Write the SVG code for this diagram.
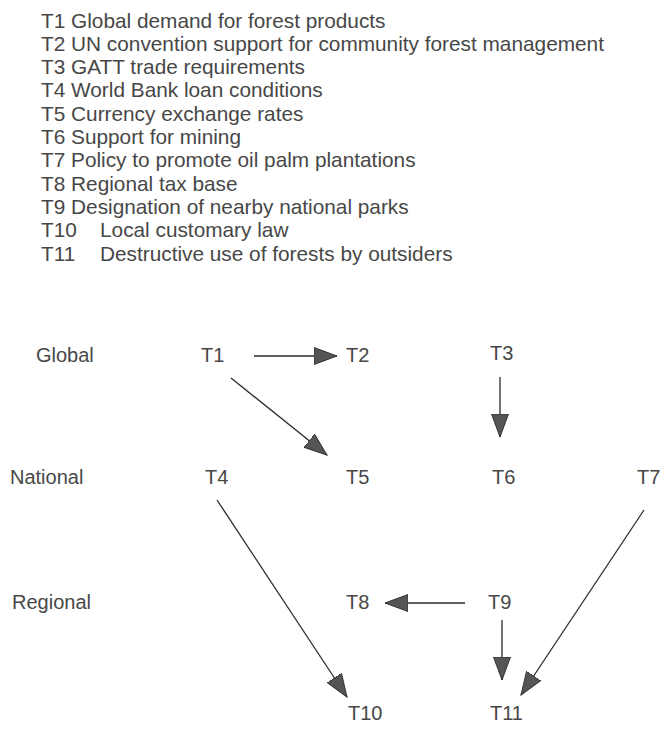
<svg xmlns="http://www.w3.org/2000/svg" width="662" height="729" viewBox="0 0 662 729">
<defs>
<style>
.lst{font-family:"Liberation Sans",Arial,sans-serif;font-size:20.8px;fill:#474747}
.lbl{font-family:"Liberation Sans",Arial,sans-serif;font-size:20px;fill:#474747}
.edge{stroke:#2a2a2a;stroke-width:1.3;fill:none;marker-end:url(#ah)}
</style>
<marker id="ah" markerUnits="userSpaceOnUse" markerWidth="26" markerHeight="20" refX="23" refY="9" orient="auto" viewBox="0 0 26 20">
<path d="M0,0.5 L23,9 L0,17.5 Z" fill="#555" stroke="#333" stroke-width="1"/>
</marker>
</defs>
<rect width="662" height="729" fill="#fff"/>
<g id="legend">
<text class="lst" x="41" y="27.5">T1 Global demand for forest products</text>
<text class="lst" x="41" y="50.8">T2 UN convention support for community forest management</text>
<text class="lst" x="41" y="74.1">T3 GATT trade requirements</text>
<text class="lst" x="41" y="97.4">T4 World Bank loan conditions</text>
<text class="lst" x="41" y="120.7">T5 Currency exchange rates</text>
<text class="lst" x="41" y="144">T6 Support for mining</text>
<text class="lst" x="41" y="167.3">T7 Policy to promote oil palm plantations</text>
<text class="lst" x="41" y="190.6">T8 Regional tax base</text>
<text class="lst" x="41" y="213.9">T9 Designation of nearby national parks</text>
<text class="lst" x="41" y="237.2">T10</text>
<text class="lst" x="100" y="237.2">Local customary law</text>
<text class="lst" x="41" y="260.5">T11</text>
<text class="lst" x="100" y="260.5">Destructive use of forests by outsiders</text>
</g>
<g id="levels">
<text class="lbl" x="36" y="362">Global</text>
<text class="lbl" x="10" y="484">National</text>
<text class="lbl" x="12" y="609">Regional</text>
</g>
<g id="T1"><text class="lbl" x="201" y="362">T1</text></g>
<g id="T2"><text class="lbl" x="346" y="362">T2</text></g>
<g id="T3"><text class="lbl" x="490" y="360">T3</text></g>
<g id="T4"><text class="lbl" x="205" y="484">T4</text></g>
<g id="T5"><text class="lbl" x="346" y="484">T5</text></g>
<g id="T6"><text class="lbl" x="492" y="484">T6</text></g>
<g id="T7"><text class="lbl" x="637" y="484">T7</text></g>
<g id="T8"><text class="lbl" x="346" y="609">T8</text></g>
<g id="T9"><text class="lbl" x="488" y="609">T9</text></g>
<g id="T10"><text class="lbl" x="348" y="720">T10</text></g>
<g id="T11"><text class="lbl" x="490" y="720">T11</text></g>
<g id="connectors">
<line class="edge" x1="254" y1="356" x2="337" y2="356"/>
<line class="edge" x1="231" y1="378" x2="327" y2="455"/>
<line class="edge" x1="500" y1="377" x2="500" y2="437"/>
<line class="edge" x1="217" y1="500" x2="347" y2="697"/>
<line class="edge" x1="644" y1="510" x2="521" y2="695"/>
<line class="edge" x1="465" y1="603" x2="385" y2="603"/>
<line class="edge" x1="502" y1="620" x2="502" y2="680"/>
</g>
</svg>
